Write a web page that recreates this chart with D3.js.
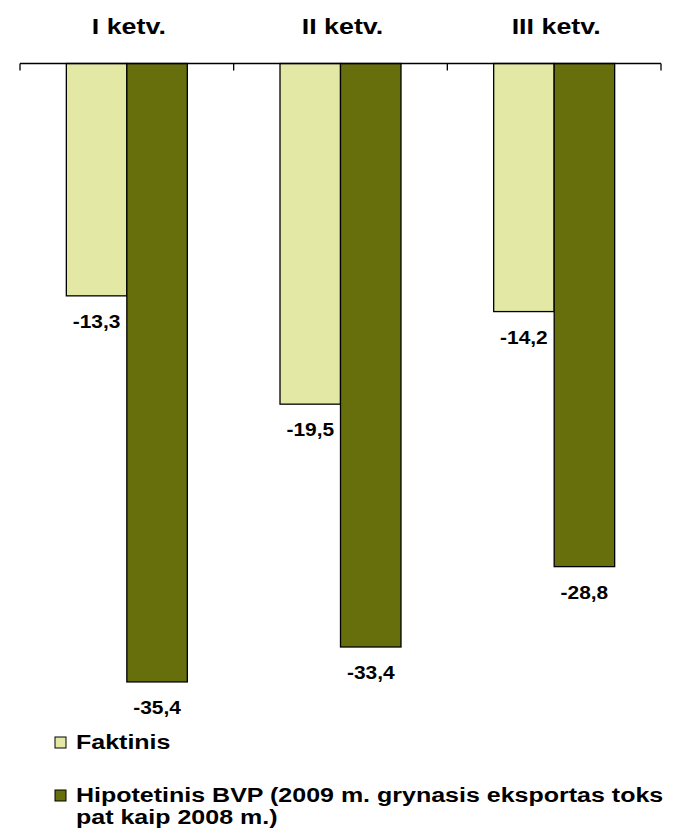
<!DOCTYPE html>
<html>
<head>
<meta charset="utf-8">
<script src="https://cdn.jsdelivr.net/npm/d3@7"></script>
<style>
  html, body { margin: 0; padding: 0; background: #fff; }
  svg { display: block; font-family: "Liberation Sans", Arial, sans-serif; font-weight: bold; }
</style>
</head>
<body>
<svg id="chart" width="675" height="835"></svg>
<script>
// Quarterly GDP change, %: actual vs hypothetical (net exports held at 2008 level)
const quarters = ["I ketv.", "II ketv.", "III ketv."];
const seriesNames = ["Faktinis", "Hipotetinis BVP (2009 m. grynasis eksportas toks pat kaip 2008 m.)"];
const legendLines = [["Faktinis"], ["Hipotetinis BVP (2009 m. grynasis eksportas toks", "pat kaip 2008 m.)"]];
const faktinis = [-13.3, -19.5, -14.2];
const hipotetinis = [-35.4, -33.4, -28.8];
const colors = ["#E3E8A5", "#666F0B"];

const values = [faktinis, hipotetinis];
const fmt = v => d3.format(".1f")(v).replace("\u2212", "-").replace(".", ",");

const svg = d3.select("#chart");

const x0 = d3.scaleBand().domain(quarters).range([20, 661]);
const x1 = d3.scaleBand().domain(seriesNames).range([0, x0.bandwidth()]).paddingOuter(0.766);
const y = d3.scaleLinear().domain([-40, 0]).range([762.3, 63.5]);

// Stretch text horizontally to the wide bold face used in the chart
function stretch(sel, k) {
  sel.each(function () {
    const w = this.getComputedTextLength();
    d3.select(this).attr("textLength", w * k).attr("lengthAdjust", "spacingAndGlyphs");
  });
}

// bars
const groups = svg.append("g").selectAll("g")
  .data(quarters)
  .join("g")
  .attr("transform", d => `translate(${x0(d)},0)`);

groups.selectAll("rect")
  .data((q, i) => seriesNames.map((s, j) => ({ s, j, v: values[j][i] })))
  .join("rect")
  .attr("x", d => x1(d.s))
  .attr("width", x1.bandwidth())
  .attr("y", y(0))
  .attr("height", d => y(d.v) - y(0))
  .attr("fill", d => colors[d.j])
  .attr("stroke", "#000")
  .attr("stroke-width", 1.3);

// value labels under the bar ends
const labels = groups.selectAll("text.val")
  .data((q, i) => seriesNames.map((s, j) => ({ s, j, v: values[j][i] })))
  .join("text")
  .attr("class", "val")
  .attr("x", d => x1(d.s) + x1.bandwidth() / 2)
  .attr("y", d => y(d.v) + 32)
  .attr("text-anchor", "middle")
  .attr("font-size", 18.5)
  .attr("fill", "#000")
  .text(d => fmt(d.v));
stretch(labels, 1.13);

// category axis along the top (zero line)
const edges = quarters.map(q => x0(q)).concat([x0.range()[1]]);
svg.append("line")
  .attr("x1", x0.range()[0]).attr("x2", x0.range()[1])
  .attr("y1", y(0)).attr("y2", y(0))
  .attr("stroke", "#000").attr("stroke-width", 1.3);
svg.append("g").selectAll("line")
  .data(edges)
  .join("line")
  .attr("x1", d => d).attr("x2", d => d)
  .attr("y1", y(0)).attr("y2", y(0) + 7)
  .attr("stroke", "#000").attr("stroke-width", 1.3);

const cats = svg.append("g").selectAll("text")
  .data(quarters)
  .join("text")
  .attr("x", d => x0(d) + x0.bandwidth() / 2 + 2)
  .attr("y", 34)
  .attr("text-anchor", "middle")
  .attr("font-size", 22)
  .attr("fill", "#000")
  .text(d => d);
stretch(cats, 1.22);

// legend
const legendTop = [737, 790];
const leg = svg.append("g").selectAll("g")
  .data(seriesNames)
  .join("g");
leg.append("rect")
  .attr("x", 55)
  .attr("y", (d, i) => legendTop[i])
  .attr("width", 11).attr("height", 11)
  .attr("fill", (d, i) => colors[i])
  .attr("stroke", "#000").attr("stroke-width", 1);
leg.each(function (d, i) {
  const t = d3.select(this).selectAll("text")
    .data(legendLines[i])
    .join("text")
    .attr("x", 76)
    .attr("y", (l, k) => legendTop[i] + 12 + k * 22)
    .attr("font-size", 20)
    .attr("fill", "#000")
    .text(l => l);
  stretch(t, 1.25);
});
</script>
</body>
</html>
